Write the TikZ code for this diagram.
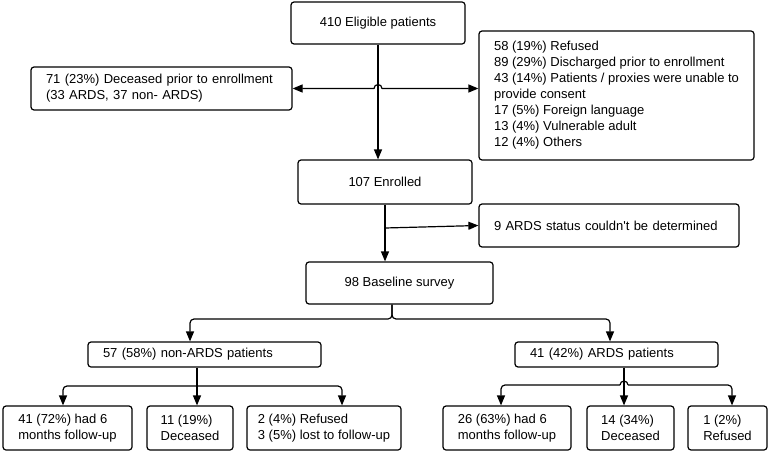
\documentclass[tikz,border=0pt]{standalone}
\usepackage{fontspec}
\setmainfont{Liberation Sans}
\usetikzlibrary{arrows.meta}
\begin{document}
\begin{tikzpicture}[x=1pt, y=-1pt, line width=1.2pt, line join=round,
  >={Triangle[length=10pt,width=8pt]},
  font=\fontsize{13}{16}\selectfont,
  box/.style={draw, rounded corners=3pt, inner ysep=0pt, inner xsep=15pt},
  cbox/.style={box, align=center},
  tbox/.style={box, align=left},
  lbox/.style={box, align=left, text width=#1}]
\useasboundingbox (0,0) rectangle (778,452);
% Boxes
\node[cbox, minimum width=174pt, minimum height=42pt] (elig) at (378,23) {410 Eligible patients};
\node[tbox, minimum width=275pt, minimum height=129pt] (excl) at (616.5,95.5)
  {58 (19\%) Refused\\89 (29\%) Discharged prior to enrollment\\43 (14\%) Patients / proxies were unable to\\provide consent\\17 (5\%) Foreign language\\13 (4\%) Vulnerable adult\\12 (4\%) Others};
\node[lbox=231pt, minimum height=43pt] (dec) at (161.5,88.5)
  {71 (23\%) Deceased prior to enrollment\\(33 ARDS, 37 non- ARDS)};
\node[cbox, minimum width=174pt, minimum height=44pt] (enr) at (385,182) {107 Enrolled};
\node[lbox=230pt, minimum height=43pt] (ards9) at (609,225.5) {9 ARDS status couldn\textquotesingle t be determined};
\node[cbox, minimum width=187pt, minimum height=42pt] (base) at (399.5,283) {98 Baseline survey};
\node[lbox=203pt, minimum height=25pt] (nonards) at (204.5,354.5) {57 (58\%) non-ARDS patients};
\node[lbox=173pt, minimum height=25pt] (ards) at (616.5,354.5) {41 (42\%) ARDS patients};
\node[tbox, inner xsep=5pt, minimum width=129pt, minimum height=44pt] (b1) at (67.5,428) {41 (72\%) had 6\\months follow-up};
\node[tbox, inner xsep=5pt, minimum width=86pt, minimum height=44pt] (b2) at (190,428) {11 (19\%)\\Deceased};
\node[tbox, inner xsep=5pt, minimum width=154pt, minimum height=44pt] (b3) at (324,428) {2 (4\%) Refused\\3 (5\%) lost to follow-up};
\node[tbox, inner xsep=5pt, minimum width=128pt, minimum height=44pt] (b4) at (507,428) {26 (63\%) had 6\\months follow-up};
\node[tbox, inner xsep=5pt, minimum width=87pt, minimum height=44pt] (b5) at (630.5,428) {14 (34\%)\\Deceased};
\node[tbox, inner xsep=5pt, minimum width=79pt, minimum height=44pt] (b6) at (727.5,428) {1 (2\%)\\Refused};
% Connectors
\coordinate (hop1) at (elig.south |- dec.east);
\draw[->] (elig.south) -- (elig.south |- enr.north);
\draw[<->] (dec.east) -- ([xshift=-4pt]hop1) arc[start angle=180, end angle=0, radius=4pt] -- (hop1 -| excl.west);
\coordinate (sp2) at (385,228);
\draw[->] (enr.south) -- (enr.south |- base.north);
\draw[->] (sp2) -- (ards9.west);
\coordinate (sp3) at (392,319);
\draw[->, rounded corners=4pt] (sp3 |- base.south) -- (sp3) -| ([xshift=-14.5pt]nonards.north);
\draw[->, rounded corners=4pt] (sp3 |- base.south) -- (sp3) -| ([xshift=-6.5pt]ards.north);
\coordinate (sp4) at (197,386);
\draw[->] (sp4 |- nonards.south) -- (sp4 |- b2.north);
\draw[->, rounded corners=4pt] (sp4) -| ([xshift=-4.5pt]b1.north);
\draw[->, rounded corners=4pt] (sp4) -| ([xshift=18pt]b3.north);
\coordinate (sp5) at (624,385);
\draw[->] (sp5 |- ards.south) -- (sp5 |- b5.north);
\draw[->, rounded corners=4pt] ([xshift=-4pt]sp5) -| ([xshift=-6pt]b4.north);
\draw[->, rounded corners=4pt] ([xshift=4pt]sp5) -| ([xshift=4.5pt]b6.north);
\draw ([xshift=-4pt]sp5) arc[start angle=180, end angle=0, radius=4pt];
\end{tikzpicture}
\end{document}
